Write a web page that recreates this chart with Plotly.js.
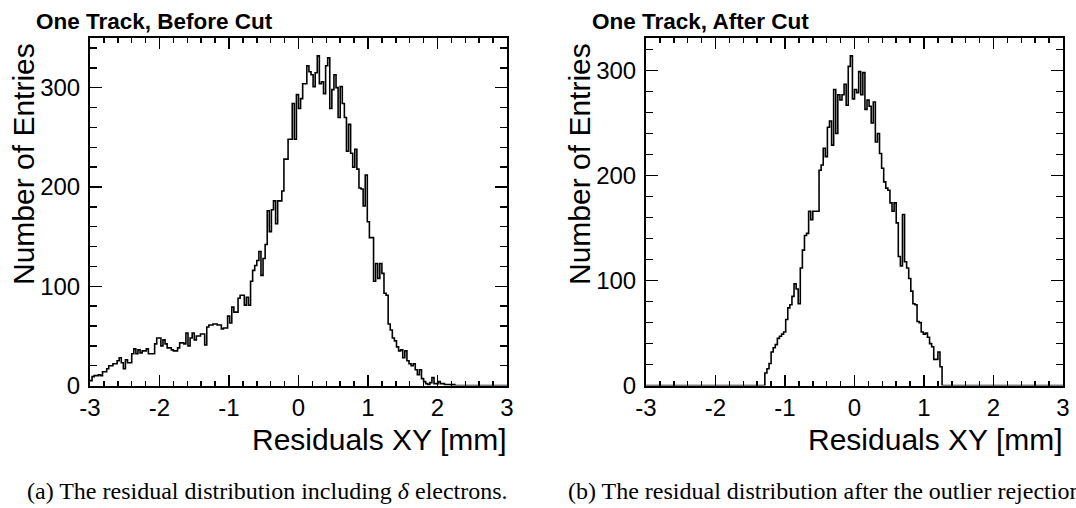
<!DOCTYPE html>
<html>
<head>
<meta charset="utf-8">
<script src="https://cdn.plot.ly/plotly-3.0.1.min.js"></script>
<style>html,body{margin:0;padding:0;background:#fff;}#chart{width:1076px;height:508px;}</style>
</head>
<body>
<div id="chart"></div>
<script>
// Histogram binning (200 bins from -3 to 3 mm)
const binLow = -3;
const binHigh = 3;
const nBins = 200;

// Entries per bin, "One Track, Before Cut"
const beforeCut = [
  5, 9, 10, 10, 11, 10, 14, 14, 17, 20,
  20, 22, 22, 25, 28, 23, 17, 26, 23, 23,
  32, 37, 32, 36, 33, 35, 35, 37, 32, 32,
  32, 42, 48, 48, 40, 46, 42, 38, 38, 36,
  35, 35, 38, 43, 43, 42, 53, 40, 48, 53,
  46, 50, 50, 52, 52, 41, 59, 61, 61, 62,
  62, 61, 61, 57, 58, 58, 70, 63, 79, 74,
  74, 88, 91, 91, 81, 89, 81, 105, 116, 121,
  126, 135, 111, 128, 142, 176, 155, 177, 186, 163,
  186, 186, 196, 228, 228, 248, 248, 284, 248, 293,
  279, 289, 304, 304, 322, 316, 313, 301, 315, 332,
  304, 306, 294, 322, 330, 279, 298, 313, 300, 270,
  301, 284, 270, 236, 263, 234, 220, 238, 218, 199,
  198, 181, 212, 165, 149, 149, 105, 123, 108, 123,
  113, 93, 91, 62, 56, 48, 45, 39, 35, 36,
  28, 35, 25, 22, 20, 22, 16, 11, 16, 7,
  4, 2, 1, 3, 8, 2, 2, 4, 2, 2,
  1, 1, 1, 0, 1, 0, 0, 0, 0, 0,
  0, 0, 0, 0, 0, 0, 0, 0, 0, 0,
  0, 0, 0, 0, 0, 0, 0, 0, 0, 0
];

// Entries per bin, "One Track, After Cut"
const afterCut = [
  0, 0, 0, 0, 0, 0, 0, 0, 0, 0,
  0, 0, 0, 0, 0, 0, 0, 0, 0, 0,
  0, 0, 0, 0, 0, 0, 0, 0, 0, 0,
  0, 0, 0, 0, 0, 0, 0, 0, 0, 0,
  0, 0, 0, 0, 0, 0, 0, 0, 0, 0,
  0, 0, 0, 0, 0, 0, 0, 12, 16, 21,
  32, 36, 39, 45, 47, 49, 51, 63, 74, 77,
  85, 97, 92, 78, 112, 129, 143, 145, 166, 158,
  166, 166, 166, 205, 210, 226, 218, 246, 252, 229,
  282, 240, 277, 272, 277, 287, 267, 304, 314, 273,
  282, 279, 299, 277, 298, 263, 272, 266, 250, 270,
  232, 240, 221, 207, 194, 188, 186, 174, 166, 174,
  155, 123, 114, 163, 118, 112, 102, 90, 78, 77,
  61, 60, 51, 49, 50, 46, 40, 37, 25, 25,
  32, 18, 0, 0, 0, 0, 0, 0, 0, 0,
  0, 0, 0, 0, 0, 0, 0, 0, 0, 0,
  0, 0, 0, 0, 0, 0, 0, 0, 0, 0,
  0, 0, 0, 0, 0, 0, 0, 0, 0, 0,
  0, 0, 0, 0, 0, 0, 0, 0, 0, 0,
  0, 0, 0, 0, 0, 0, 0, 0, 0, 0
];

// Axis tick values and labels
const xTickVals = [-3, -2, -1, 0, 1, 2, 3];
const xTickText = ["-3", "-2", "-1", "0", "1", "2", "3"];
const yTickVals = [0, 100, 200, 300];
const yTickText = ["0", "100", "200", "300"];

const panelTitles = ["One Track, Before Cut", "One Track, After Cut"];
const xTitle = "Residuals XY [mm]";
const yTitle = "Number of Entries";
const captions = [
  "(a) The residual distribution including <i>δ</i> electrons.",
  "(b) The residual distribution after the outlier rejection."
];
const yMax = [350, 331];

const W = 1076, H = 508;
const binWidth = (binHigh - binLow) / nBins;
const edges = Array.from({length: nBins + 1}, (_, i) => binLow + i * binWidth);
function stepY(v) { return v.concat([v[v.length - 1]]); }

const traces = [
  {x: edges, y: stepY(beforeCut), type: 'scatter', mode: 'lines',
   line: {shape: 'hv', color: '#000', width: 1.6}, xaxis: 'x', yaxis: 'y', hoverinfo: 'skip'},
  {x: edges, y: stepY(afterCut), type: 'scatter', mode: 'lines',
   line: {shape: 'hv', color: '#000', width: 1.6}, xaxis: 'x2', yaxis: 'y2', hoverinfo: 'skip'}
];

const px = v => v / W;
const py = v => 1 - v / H;
const frames = [[90, 507], [646, 1063]];
const yDom = [py(385.6), py(38)];
const sans = 'Liberation Sans, Arial, sans-serif';

function xAxis(dom, anchor) {
  return {
    domain: dom, anchor: anchor, range: [binLow, binHigh],
    tickmode: 'array', tickvals: xTickVals, ticktext: xTickText,
    ticks: 'inside', ticklen: 11, tickwidth: 1.5, tickcolor: '#000',
    showline: true, linewidth: 2, linecolor: '#000', mirror: 'allticks',
    showgrid: false, zeroline: false, fixedrange: true,
    tickfont: {family: sans, size: 24, color: '#000'},
    ticklabelstandoff: 0,
    minor: {ticks: 'inside', dtick: 0.2, tick0: -3, ticklen: 5, tickwidth: 1.5, tickcolor: '#000', showgrid: false}
  };
}
function yAxis(ymax, anchor) {
  return {
    domain: yDom, anchor: anchor, range: [0, ymax],
    tickmode: 'array', tickvals: yTickVals, ticktext: yTickText,
    ticks: 'inside', ticklen: 12, tickwidth: 1.5, tickcolor: '#000',
    showline: true, linewidth: 2, linecolor: '#000', mirror: 'allticks',
    showgrid: false, zeroline: false, fixedrange: true,
    tickfont: {family: sans, size: 24, color: '#000'},
    ticklabelstandoff: 3,
    minor: {ticks: 'inside', dtick: 20, tick0: 0, ticklen: 7, tickwidth: 1.5, tickcolor: '#000', showgrid: false}
  };
}

const annotations = [];
[0, 1].forEach(i => {
  const [l, r] = frames[i];
  annotations.push({xref: 'paper', yref: 'paper', x: px(l - 56), y: py(21), xanchor: 'left', yanchor: 'middle',
    text: '<b>' + panelTitles[i] + '</b>', showarrow: false, font: {family: sans, size: 22.5, color: '#000'}});
  annotations.push({xref: 'paper', yref: 'paper', x: px(r + 2), y: py(439), xanchor: 'right', yanchor: 'middle',
    text: xTitle, showarrow: false, font: {family: sans, size: 30, color: '#000'}});
  annotations.push({xref: 'paper', yref: 'paper', x: px(l - 67), y: py(164), xanchor: 'center', yanchor: 'middle',
    text: yTitle, textangle: -90, showarrow: false, font: {family: sans, size: 30, color: '#000'}});
  annotations.push({xref: 'paper', yref: 'paper', x: px(i === 0 ? 25 : 566), y: py(491), xanchor: 'left', yanchor: 'middle',
    text: captions[i], showarrow: false, font: {family: 'Liberation Serif, Times New Roman, serif', size: 24, color: '#000'}});
});

const layout = {
  width: W, height: H, autosize: false,
  margin: {l: 0, r: 0, t: 0, b: 0, pad: 0},
  paper_bgcolor: '#fff', plot_bgcolor: '#fff',
  showlegend: false,
  xaxis: xAxis([px(frames[0][0]), px(frames[0][1])], 'y'),
  yaxis: yAxis(yMax[0], 'x'),
  xaxis2: xAxis([px(frames[1][0]), px(frames[1][1])], 'y2'),
  yaxis2: yAxis(yMax[1], 'x2'),
  annotations: annotations
};

Plotly.newPlot('chart', traces, layout, {staticPlot: true, displayModeBar: false});
</script>
</body>
</html>
